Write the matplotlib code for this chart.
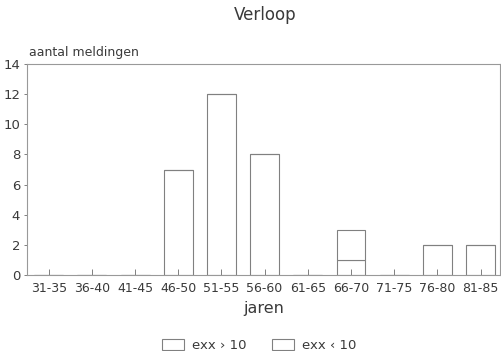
import matplotlib
matplotlib.use("Agg")
import matplotlib.pyplot as plt
import numpy as np

categories = ["31-35", "36-40", "41-45", "46-50", "51-55", "56-60",
              "61-65", "66-70", "71-75", "76-80", "81-85"]
exx_gt10 = [0, 0, 0, 7, 12, 8, 0, 1, 0, 2, 2]
exx_lt10 = [0, 0, 0, 0, 0, 0, 0, 2, 0, 0, 0]
yticks = [0, 2, 4, 6, 8, 10, 12, 14]

txt = "#3a3a3a"
edge = "#808080"

fig = plt.figure(figsize=(5.01, 3.51), dpi=100)
ax = fig.add_axes([0.054, 0.2165, 0.944, 0.601])

x = np.arange(len(categories))
w = 0.67
b1 = ax.bar(x, exx_gt10, width=w, facecolor="white", edgecolor=edge, linewidth=0.8,
            label="exx \u203a 10")
b2 = ax.bar(x, exx_lt10, width=w, bottom=exx_gt10, facecolor="white", edgecolor=edge,
            linewidth=0.8, label="exx \u2039 10")

ax.set_xlim(-0.5, 10.45)
ax.set_ylim(0, 14)
ax.set_yticks(yticks)
ax.set_xticks(x)
ax.set_xticklabels(categories)
ax.tick_params(axis="x", direction="in", length=4, width=0.7, colors=edge,
               labelcolor=txt, labelsize=9, pad=5)
ax.tick_params(axis="y", direction="out", length=2, width=0.7, colors=edge,
               labelcolor=txt, labelsize=9.5, pad=3)
for s in ax.spines.values():
    s.set_color("#999999")
    s.set_linewidth(0.8)

fig.text(0.529, 0.957, "Verloop", ha="center", va="center", fontsize=12, color=txt)
fig.text(0.058, 0.851, "aantal meldingen", ha="left", va="center", fontsize=9, color=txt)
fig.text(0.527, 0.121, "jaren", ha="center", va="center", fontsize=11.5, color=txt)

leg = fig.legend(handles=[b1, b2], loc="center", bbox_to_anchor=(0.517, 0.015),
                 ncol=2, frameon=False, fontsize=9.5, handlelength=1.7,
                 handleheight=0.85, columnspacing=1.9, handletextpad=0.6,
                 labelcolor=txt)

fig.savefig("out.png", dpi=100, facecolor="white")
